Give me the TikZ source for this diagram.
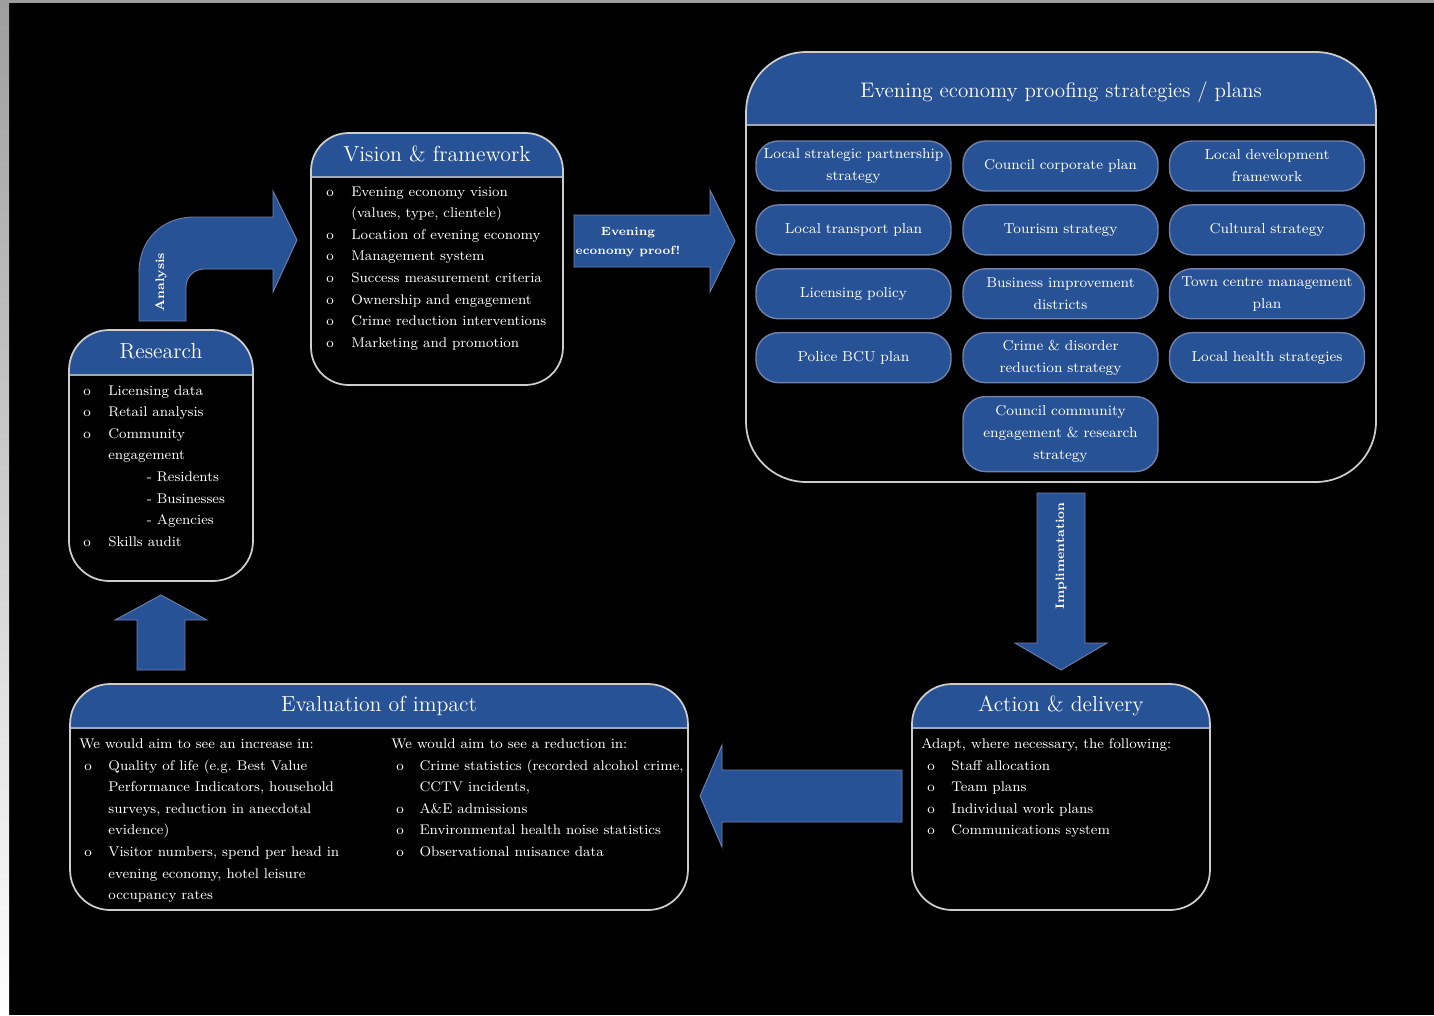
\documentclass[tikz,border=0pt]{standalone}
\usetikzlibrary{calc, chains, positioning}

\definecolor{boxblue}{RGB}{40,82,150}
\definecolor{pilledge}{RGB}{112,130,172}
\definecolor{rim}{RGB}{205,205,205}

\newcommand{\blockarrow}[5]{%
  \coordinate (bh) at ($(#2)!#5!(#1)$);
  \filldraw[arrowblock] ($(#1)!#3!90:(#2)$) -- ($(bh)!#3!-90:(#1)$) -- ($(bh)!#4!-90:(#1)$) -- (#2)
    -- ($(bh)!#4!90:(#1)$) -- ($(bh)!#3!90:(#1)$) -- ($(#1)!#3!-90:(#2)$) -- cycle;}

\tikzset{
  panel/.style={draw=rim, line width=1pt, inner sep=0pt,
    path picture={
      \fill[boxblue, sharp corners] (path picture bounding box.north west) rectangle ([yshift=-#1]path picture bounding box.north east);
      \draw[rim!70!boxblue, line width=1.2pt, sharp corners] ([yshift=-#1]path picture bounding box.north west) -- ([yshift=-#1]path picture bounding box.north east);
    }},
  heading/.style={text=white, inner sep=0pt, text depth=0pt, font=\fontsize{12.4}{14}\selectfont},
  itemlist/.style={text=white, inner sep=0pt, anchor=base west, font=\fontsize{8}{12.3}\selectfont},
  pill/.style={fill=boxblue, draw=pilledge, line width=0.8pt, rounded corners=0.45cm,
    text=white, minimum width=3.9cm, minimum height=1cm, text width=3.8cm, align=center,
    inner sep=0pt, font=\fontsize{8.2}{12.5}\selectfont},
  arrowblock/.style={fill=boxblue, draw=pilledge, line width=0.5pt},
  arrowtext/.style={text=white, inner sep=0pt, font=\bfseries\fontsize{7}{10.5}\selectfont}
}

\begin{document}
\begin{tikzpicture}[x=0.02cm, y=-0.02cm]
  \useasboundingbox (0,0) rectangle (1434,1015);
  \fill[black] (0,0) rectangle (1434,1015);
  \shade[top color=black!38, bottom color=white] (0,0) rectangle (9,1015);
  \fill[black!38] (0,0) rectangle (1434,3);

  % research
  \node[panel=0.9cm, rounded corners=0.8cm, minimum width=3.68cm, minimum height=5.02cm] (research) at (161,455.5) {};
  \node[heading] (researchtitle) at ($(research.north)+(0,22)$) {Research};
  \node[itemlist] (researchlist) at (83,395) {\begin{tabular}[t]{@{}p{14.2pt}@{}l@{}}
      o & Licensing data\\
      o & Retail analysis\\
      o & Community\\
        & engagement\\
        & \hspace*{22pt}- Residents\\
        & \hspace*{22pt}- Businesses\\
        & \hspace*{22pt}- Agencies\\
      o & Skills audit
    \end{tabular}};

  % vision
  \node[panel=0.88cm, rounded corners=0.75cm, minimum width=5.04cm, minimum height=5.04cm] (vision) at (437,259) {};
  \node[heading] (visiontitle) at ($(vision.north)+(0,22)$) {Vision \& framework};
  \node[itemlist] (visionlist) at (326,196) {\begin{tabular}[t]{@{}p{14.2pt}@{}l@{}}
      o & Evening economy vision\\
        & (values, type, clientele)\\
      o & Location of evening economy\\
      o & Management system\\
      o & Success measurement criteria\\
      o & Ownership and engagement\\
      o & Crime reduction interventions\\
      o & Marketing and promotion
    \end{tabular}};

  % strategies / plans
  \node[panel=1.46cm, rounded corners=1.2cm, minimum width=12.6cm, minimum height=8.6cm] (plans) at (1061,267) {};
  \node[heading, font=\fontsize{12}{14}\selectfont] (planstitle) at ($(plans.north)+(0,38)$) {Evening economy proofing strategies / plans};

  \begin{scope}[start chain=going below, node distance=0.25cm]
    \node[on chain, pill] (lsp) at (853.5,166) {Local strategic partnership\\strategy};
    \node[on chain, pill] (ltp) {Local transport plan};
    \node[on chain, pill] (lic) {Licensing policy};
    \node[on chain, pill] (bcu) {Police BCU plan};
  \end{scope}

  \begin{scope}[start chain=going below, node distance=0.25cm]
    \node[on chain, pill] (ccp) at (1060.5,166) {Council corporate plan};
    \node[on chain, pill] (tour) {Tourism strategy};
    \node[on chain, pill] (bid) {Business improvement\\districts};
    \node[on chain, pill] (cdr) {Crime \& disorder\\reduction strategy};
    \node[on chain, pill, minimum height=1.5cm] (cce) {Council community\\engagement \& research\\strategy};
  \end{scope}

  \begin{scope}[start chain=going below, node distance=0.25cm]
    \node[on chain, pill] (ldf) at (1267,166) {Local development\\framework};
    \node[on chain, pill] (cult) {Cultural strategy};
    \node[on chain, pill] (tcm) {Town centre management\\plan};
    \node[on chain, pill] (health) {Local health strategies};
  \end{scope}

  % action
  \node[panel=0.88cm, rounded corners=0.8cm, minimum width=5.96cm, minimum height=4.52cm] (action) at (1061,797) {};
  \node[heading] (actiontitle) at ($(action.north)+(0,21)$) {Action \& delivery};
  \node[itemlist] (adapt) at (921,748) {Adapt, where necessary, the following:};
  \node[itemlist] (actionlist) at (927,770) {\begin{tabular}[t]{@{}p{13.7pt}@{}l@{}}
      o & Staff allocation\\
      o & Team plans\\
      o & Individual work plans\\
      o & Communications system
    \end{tabular}};

  % evaluation
  \node[panel=0.88cm, rounded corners=0.8cm, minimum width=12.36cm, minimum height=4.52cm] (impact) at (379,797) {};
  \node[heading] (impacttitle) at ($(impact.north)+(0,21)$) {Evaluation of impact};
  \node[itemlist] (increase) at (79,748) {We would aim to see an increase in:};
  \node[itemlist] (increaselist) at (84,770) {\begin{tabular}[t]{@{}p{13.7pt}@{}l@{}}
      o & Quality of life (e.g.\ Best Value\\
        & Performance Indicators, household\\
        & surveys, reduction in anecdotal\\
        & evidence)\\
      o & Visitor numbers, spend per head in\\
        & evening economy, hotel leisure\\
        & occupancy rates
    \end{tabular}};
  \node[itemlist] (reduction) at (391,748) {We would aim to see a reduction in:};
  \node[itemlist] (reductionlist) at (396,770) {\begin{tabular}[t]{@{}p{13.2pt}@{}l@{}}
      o & Crime statistics (recorded alcohol crime,\\
        & CCTV incidents,\\
      o & A\&E admissions\\
      o & Environmental health noise statistics\\
      o & Observational nuisance data
    \end{tabular}};

  % arrows
  \filldraw[arrowblock] (139,321) -- (139,272) .. controls (139,240) and (162,217) .. (194,217)
    -- (273,217) -- (273,191) -- (297,240) -- (273,292) -- (273,269) -- (204,269)
    .. controls (194,269) and (186,277) .. (186,287) -- (186,321) -- cycle;
  \node[arrowtext, rotate=90] (analysis) at (161,282) {Analysis};

  \coordinate (proofA) at (574,241);
  \coordinate (proofB) at (735,241);
  \blockarrow{proofA}{proofB}{0.52cm}{1.02cm}{0.5cm}
  \node[arrowtext, align=center, font=\bfseries\fontsize{6.8}{10.5}\selectfont] (proof) at (628,242) {Evening\\economy proof!};

  \coordinate (implA) at (1061,493);
  \coordinate (implB) at (1061,670);
  \blockarrow{implA}{implB}{0.48cm}{0.92cm}{0.54cm}
  \node[arrowtext, rotate=90] (impl) at (1061,556) {Implimentation};

  \coordinate (backA) at (902,796);
  \coordinate (backB) at (700,796);
  \blockarrow{backA}{backB}{0.52cm}{1.02cm}{0.44cm}

  \coordinate (upA) at (161,670);
  \coordinate (upB) at (161,595);
  \blockarrow{upA}{upB}{0.48cm}{0.92cm}{0.5cm}
\end{tikzpicture}
\end{document}
